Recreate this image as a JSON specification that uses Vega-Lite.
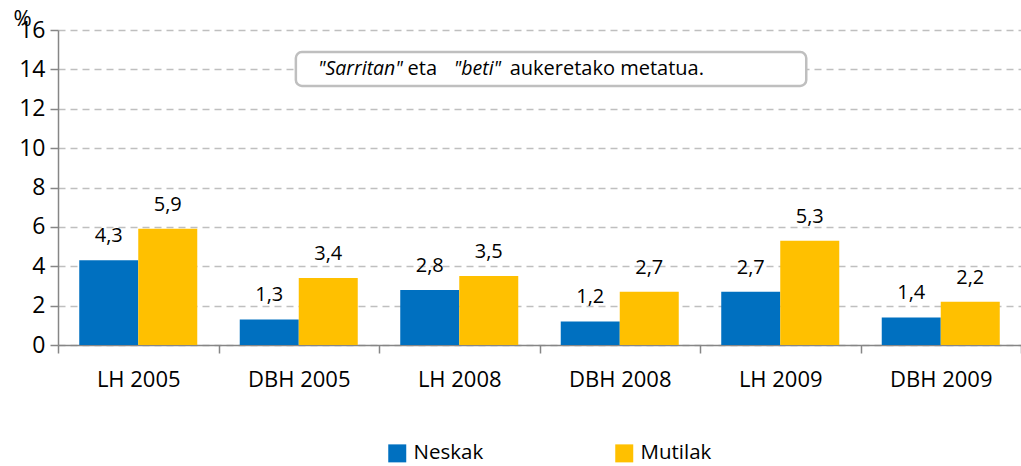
{
  "$schema": "https://vega.github.io/schema/vega-lite/v6.json",
  "width": 963,
  "height": 315,
  "autosize": {"type": "none"},
  "padding": {"left": 58, "top": 30, "right": 0, "bottom": 121},
  "background": "white",
  "config": {
    "view": {"stroke": null},
    "font": "Open Sans",
    "locale": {"number": {"decimal": ",", "thousands": ".", "grouping": [3], "currency": ["", " €"]}},
    "axisY": {
      "values": [0, 2, 4, 6, 8, 10, 12, 14, 16],
      "labelFontSize": 23,
      "labelColor": "#000000",
      "labelPadding": 5,
      "tickSize": 8,
      "tickColor": "#868686",
      "tickWidth": 1.5,
      "domainColor": "#868686",
      "domainWidth": 1.5,
      "grid": true,
      "gridColor": "#BFBFBF",
      "gridDash": [7, 5],
      "gridWidth": 1.5,
      "title": "%",
      "titleAngle": 0,
      "titleFontSize": 22,
      "titleFontWeight": "normal",
      "titleColor": "#000000",
      "titleAlign": "center",
      "titleBaseline": "alphabetic",
      "titleX": -36,
      "titleY": -5
    },
    "legend": {"padding": 0}
  },
  "datasets": {
    "bars": [
      {"kategoria": "LH 2005", "sexua": "Neskak", "balioa": 4.3},
      {"kategoria": "LH 2005", "sexua": "Mutilak", "balioa": 5.9},
      {"kategoria": "DBH 2005", "sexua": "Neskak", "balioa": 1.3},
      {"kategoria": "DBH 2005", "sexua": "Mutilak", "balioa": 3.4},
      {"kategoria": "LH 2008", "sexua": "Neskak", "balioa": 2.8},
      {"kategoria": "LH 2008", "sexua": "Mutilak", "balioa": 3.5},
      {"kategoria": "DBH 2008", "sexua": "Neskak", "balioa": 1.2},
      {"kategoria": "DBH 2008", "sexua": "Mutilak", "balioa": 2.7},
      {"kategoria": "LH 2009", "sexua": "Neskak", "balioa": 2.7},
      {"kategoria": "LH 2009", "sexua": "Mutilak", "balioa": 5.3},
      {"kategoria": "DBH 2009", "sexua": "Neskak", "balioa": 1.4},
      {"kategoria": "DBH 2009", "sexua": "Mutilak", "balioa": 2.2}
    ],
    "box": [{"x1": 0.247, "x2": 0.777, "y1": 13.16, "y2": 14.88}],
    "annItalic": [
      {"x": 0.270, "y": 14.02, "t": "\"Sarritan\""},
      {"x": 0.411, "y": 14.02, "t": "\"beti\""}
    ],
    "annNormal": [
      {"x": 0.363, "y": 14.02, "t": "eta"},
      {"x": 0.469, "y": 14.02, "t": "aukeretako metatua."}
    ]
  },
  "layer": [
    {
      "data": {"name": "bars"},
      "encoding": {
        "x": {
          "field": "kategoria",
          "type": "nominal",
          "sort": ["LH 2005", "DBH 2005", "LH 2008", "DBH 2008", "LH 2009", "DBH 2009"],
          "scale": {"paddingInner": 0, "paddingOuter": 0},
          "axis": {
            "title": null,
            "labelAngle": 0,
            "labelFontSize": 22,
            "labelColor": "#000000",
            "labelPadding": 16,
            "tickBand": "extent",
            "tickSize": 8,
            "tickColor": "#868686",
            "tickWidth": 1.5,
            "domainColor": "#868686",
            "domainWidth": 1.5,
            "grid": false
          }
        },
        "xOffset": {
          "field": "sexua",
          "type": "nominal",
          "sort": ["Neskak", "Mutilak"],
          "scale": {"paddingInner": 0, "paddingOuter": 0.36}
        },
        "y": {
          "field": "balioa",
          "type": "quantitative",
          "scale": {"domain": [0, 16], "nice": false},
          "axis": {"title": "%"}
        }
      },
      "layer": [
        {
          "mark": {"type": "bar"},
          "encoding": {
            "color": {
              "field": "sexua",
              "type": "nominal",
              "sort": ["Neskak", "Mutilak"],
              "scale": {"domain": ["Neskak", "Mutilak"], "range": ["#0070C0", "#FFC000"]},
              "legend": {
                "title": null,
                "orient": "none",
                "direction": "horizontal",
                "legendX": 329,
                "legendY": 413,
                "symbolType": "square",
                "symbolSize": 324,
                "symbolStrokeWidth": 0,
                "labelFontSize": 20.5,
                "labelColor": "#000000",
                "labelOffset": 6,
                "columnPadding": 130
              }
            }
          }
        },
        {
          "mark": {"type": "text", "fontSize": 20, "color": "#000000", "baseline": "alphabetic", "dy": -18},
          "encoding": {
            "text": {"field": "balioa", "type": "quantitative", "format": ".1f"}
          }
        }
      ]
    },
    {
      "layer": [
        {
          "data": {"name": "box"},
          "mark": {"type": "rect", "fill": "white", "stroke": "#BFBFBF", "strokeWidth": 2.5, "cornerRadius": 6},
          "encoding": {
            "x": {"field": "x1", "type": "quantitative", "scale": {"domain": [0, 1], "nice": false, "zero": false}, "axis": null},
            "x2": {"field": "x2"},
            "y": {"field": "y1", "type": "quantitative", "axis": {"title": "%"}},
            "y2": {"field": "y2"}
          }
        },
        {
          "data": {"name": "annItalic"},
          "mark": {"type": "text", "fontSize": 19.5, "fontStyle": "italic", "align": "left", "baseline": "middle", "color": "#000000"},
          "encoding": {
            "x": {"field": "x", "type": "quantitative", "axis": null},
            "y": {"field": "y", "type": "quantitative", "axis": {"title": "%"}},
            "text": {"field": "t"}
          }
        },
        {
          "data": {"name": "annNormal"},
          "mark": {"type": "text", "fontSize": 20, "align": "left", "baseline": "middle", "color": "#000000"},
          "encoding": {
            "x": {"field": "x", "type": "quantitative", "axis": null},
            "y": {"field": "y", "type": "quantitative", "axis": {"title": "%"}},
            "text": {"field": "t"}
          }
        }
      ]
    }
  ],
  "resolve": {"scale": {"x": "independent", "color": "independent"}, "axis": {"x": "independent"}}
}
